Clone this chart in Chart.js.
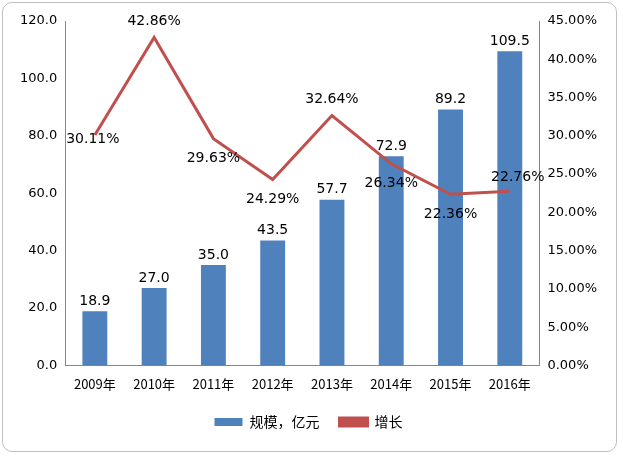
<!DOCTYPE html>
<html>
  <head>
    <style>
      body { margin: 0; background: #fff; }
      .container {
        position: absolute; left: 2px; top: 2px; width: 615px; height: 450px;
        border: 1px solid #bfbfbf; border-radius: 10px; box-sizing: border-box;
      }
    </style>
  </head>
  <body>
    <div class="container">
      <canvas id="chart"></canvas>
    </div>

    <script src="https://cdn.jsdelivr.net/npm/chart.js"></script>
    <script>
      const years = ['2009年', '2010年', '2011年', '2012年', '2013年', '2014年', '2015年', '2016年'];
      const scale = [18.9, 27.0, 35.0, 43.5, 57.7, 72.9, 89.2, 109.5];
      const growth = [30.11, 42.86, 29.63, 24.29, 32.64, 26.34, 22.36, 22.76];
      // label placement for the growth line: [dx, dy]
      const growthLabelPos = [[-2, 4], [0, -16], [0, 20], [0, 20], [0, -16], [0, 20], [0, 20], [8, -14]];

      const labels = {
        id: 'labels',
        afterDatasetsDraw(chart) {
          const ctx = chart.ctx;
          ctx.save();
          ctx.font = '14px "DejaVu Sans", sans-serif';
          ctx.fillStyle = '#000';
          ctx.textAlign = 'center';
          ctx.textBaseline = 'bottom';
          chart.getDatasetMeta(0).data.forEach((bar, i) => {
            ctx.fillText(scale[i].toFixed(1), bar.x, bar.y - 3);
          });
          ctx.textBaseline = 'middle';
          chart.getDatasetMeta(1).data.forEach((pt, i) => {
            const [dx, dy] = growthLabelPos[i];
            ctx.fillText(growth[i].toFixed(2) + '%', pt.x + dx, pt.y + dy);
          });
          ctx.restore();
        },
      };

      const tickFont = { size: 13, family: '"DejaVu Sans", sans-serif' };

      new Chart(document.getElementById('chart'), {
        type: 'bar',
        data: {
          labels: years,
          datasets: [
            {
              label: '规模，亿元',
              data: scale,
              backgroundColor: '#4F81BD',
              yAxisID: 'y',
              order: 2,
              barPercentage: 0.7,
              categoryPercentage: 0.6,
            },
            {
              type: 'line',
              label: '增长',
              data: growth,
              borderColor: '#C0504D',
              backgroundColor: '#C0504D',
              borderWidth: 3,
              pointRadius: 0,
              yAxisID: 'y1',
              order: 1,
            },
          ],
        },
        options: {
          responsive: true,
          maintainAspectRatio: false,
          animation: false,
          layout: { padding: { top: 18, right: 16, left: 14, bottom: 12 } },
          plugins: {
            tooltip: { enabled: false },
            legend: {
              position: 'bottom',
              labels: {
                color: '#000',
                font: { size: 14, family: '"Noto Sans CJK SC", sans-serif' },
                boxWidth: 28,
                boxHeight: 8,
                padding: 20,
                sort: (a, b) => a.datasetIndex - b.datasetIndex,
              },
            },
          },
          scales: {
            x: {
              grid: { display: false, drawTicks: true },
              border: { color: '#868686' },
              ticks: { color: '#000', font: { size: 13, family: '"Noto Sans CJK SC", sans-serif' }, maxRotation: 0 },
            },
            y: {
              min: 0,
              max: 120,
              grid: { display: false, drawTicks: true, tickLength: 5 },
              border: { color: '#868686' },
              ticks: { stepSize: 20, color: '#000', font: tickFont, callback: (v) => v.toFixed(1) },
            },
            y1: {
              position: 'right',
              min: 0,
              max: 45,
              grid: { display: false, drawTicks: true, tickLength: 5 },
              border: { color: '#868686' },
              ticks: { stepSize: 5, color: '#000', font: tickFont, callback: (v) => v.toFixed(2) + '%' },
            },
          },
        },
        plugins: [labels],
      });
    </script>
  </body>
</html>
